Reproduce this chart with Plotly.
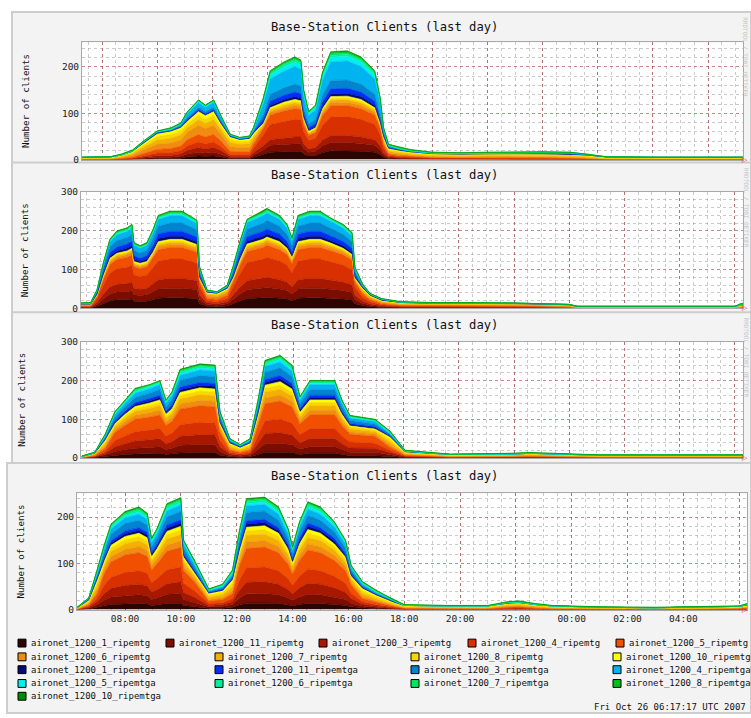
import plotly.graph_objects as go

W, H = 751, 718

SERIES = [
    "aironet_1200_1_ripemtg", "aironet_1200_11_ripemtg", "aironet_1200_3_ripemtg",
    "aironet_1200_4_ripemtg", "aironet_1200_5_ripemtg", "aironet_1200_6_ripemtg",
    "aironet_1200_7_ripemtg", "aironet_1200_8_ripemtg", "aironet_1200_10_ripemtg",
    "aironet_1200_1_ripemtga", "aironet_1200_11_ripemtga", "aironet_1200_3_ripemtga",
    "aironet_1200_4_ripemtga", "aironet_1200_5_ripemtga", "aironet_1200_6_ripemtga",
    "aironet_1200_7_ripemtga", "aironet_1200_8_ripemtga", "aironet_1200_10_ripemtga",
]
COLORS = [
    "#2c0400", "#7a0c00", "#a81800", "#d83000", "#f05000", "#f08c10", "#f4b000",
    "#f8d800", "#ffff00", "#000a78", "#0030f8", "#0084d0", "#00b4f0", "#00f0f0",
    "#00f0a0", "#00e860", "#00c018", "#008c00",
]
TICK_HOURS = [8, 10, 12, 14, 16, 18, 20, 22, 24, 26, 28, 30]
TICK_LABELS = ["08:00", "10:00", "12:00", "14:00", "16:00", "18:00", "20:00",
               "22:00", "00:00", "02:00", "04:00", ""]
TITLE = "Base-Station Clients (last day)"
Y_LABEL = "Number of clients"
STAMP = "Fri Oct 26 06:17:17 UTC 2007"

# ---------------- panel 1 ----------------
P1_T = [7.27,8.3,8.7,9.1,9.5,10.0,10.5,10.85,11.1,11.5,11.75,12.05,12.3,12.65,13.0,13.35,13.5,13.85,14.1,14.6,15.0,15.22,15.32,15.5,15.75,16.0,16.3,16.9,17.4,17.9,18.1,18.22,18.4,18.8,19.2,20.0,21.0,22.0,23.0,24.0,25.0,25.6,26.3,28.0,31.27]
P1_TG1 = [0,0,0,0,1,2,2,3,6,8, 7,8,6,2,2,2,5,11,16,17, 18,18,12,8,9,15,19,19,18,16, 11,5,2,1,1,1,1,1,1,1, 0,0,0,0,0]
P1_TG11 = [0,0,0,1,2,3,3,4,6,8, 7,8,6,2,2,2,5,10,15,16, 17,17,12,8,9,15,18,18,17,15, 10,5,2,2,1,1,1,1,1,1, 1,0,0,0,0]
P1_TG3 = [0,0,0,1,2,4,4,5,8,10, 9,10,8,3,3,3,5,9,12,14, 14,14,10,7,8,12,15,15,14,12, 9,5,2,1,1,0,0,0,0,0, 0,0,0,0,0]
P1_TG4 = [0,0,1,1,3,5,6,7,10,12, 11,12,9,4,4,4,10,23,33,36, 38,37,26,18,20,32,40,41,38,33, 23,10,3,2,2,1,1,1,1,1, 1,1,0,0,0]
P1_TG5 = [0,0,1,2,5,8,9,10,13,16, 15,16,12,7,6,6,8,14,20,22, 23,22,15,11,12,20,24,24,23,20, 14,7,3,2,2,1,1,1,1,1, 1,1,0,0,0]
P1_TG6 = [1,1,2,4,7,11,12,13,16,20, 18,20,15,10,9,9,8,4,6,6, 7,6,5,3,4,6,7,7,7,6, 4,5,3,3,2,2,1,2,2,2, 2,1,1,1,1]
P1_TG7 = [1,1,2,3,6,9,10,11,10,12, 11,12,9,9,7,8,6,3,4,5, 5,5,3,2,3,4,5,5,5,4, 3,4,3,3,2,2,2,2,2,2, 2,2,1,1,1]
P1_TG8 = [1,2,2,3,5,8,8,9,8,10, 9,10,8,7,6,6,5,2,3,4, 4,4,3,2,2,3,4,4,4,3, 2,4,3,3,3,3,3,3,3,3, 3,3,2,1,1]
P1_TG10 = [2,2,2,3,4,6,7,7,6,8, 8,8,6,5,4,5,5,2,3,4, 4,4,3,2,2,3,4,4,4,3, 2,4,3,3,3,2,2,2,2,2, 2,2,2,2,2]
P1_TGA1 = [0,0,0,0,1,1,1,1,2,2, 2,2,1,1,1,1,1,3,5,5, 6,5,4,3,3,5,6,6,6,5, 3,2,1,0,0,0,0,0,0,0, 0,0,0,0,0]
P1_TGA11 = [0,0,0,0,1,1,1,1,2,2, 2,2,2,1,0,1,2,6,9,10, 10,10,7,5,6,9,11,11,10,9, 6,3,1,1,0,0,0,0,0,0, 0,0,0,0,0]
P1_TGA3 = [0,0,0,0,1,1,1,2,4,5, 5,5,4,1,1,1,2,10,15,16, 17,16,11,8,9,15,18,18,17,15, 10,4,2,1,1,1,1,1,1,1, 1,0,0,0,0]
P1_TGA4 = [0,0,0,1,0,1,1,2,8,10, 9,10,7,1,1,1,3,23,33,36, 38,37,26,18,20,32,40,41,38,33, 23,6,2,1,1,0,0,0,1,1, 1,0,0,0,0]
P1_TGA5 = [0,0,0,0,1,1,1,1,2,3, 2,3,2,1,1,1,2,6,8,9, 9,9,6,4,5,8,10,10,9,8, 6,2,1,1,0,0,0,0,0,0, 1,2,0,0,0]
P1_TGA6 = [0,0,0,0,0,0,0,1,1,1, 1,1,1,0,0,0,1,2,3,4, 4,4,3,2,2,3,4,4,4,3, 2,1,0,0,0,0,0,0,0,0, 0,0,0,0,0]
P1_TGA7 = [0,0,1,0,0,0,1,0,1,1, 1,1,0,0,0,0,1,2,3,3, 3,3,2,1,2,3,3,3,3,3, 2,1,1,1,1,1,1,1,1,1, 0,0,0,0,0]
P1_TGA8 = [0,0,1,1,1,1,1,1,0,0, 0,0,0,1,1,1,1,2,2,2, 3,2,2,1,1,2,3,3,3,2, 2,1,1,1,1,1,1,1,1,1, 1,0,0,0,0]
P1_TGA10 = [0,0,0,1,0,0,1,1,1,1, 1,1,1,0,0,0,0,1,2,2, 2,2,1,1,1,2,2,2,2,2, 1,0,0,1,1,0,0,0,0,0, 0,0,0,0,0]

# ---------------- panel 2 ----------------
P2_T = [6.3,6.65,6.88,7.1,7.35,7.6,7.97,8.15,8.22,8.44, 8.69,8.91,9.1,9.53,9.96,10.36,10.5,10.6,10.87,11.23, 11.6,11.81,12.07,12.32,12.9,13.04,13.5,13.77,13.95,14.17, 14.6,14.97,15.33,15.8,16.13,16.23,16.5,16.78,17.2,17.9, 19.0,20.5,22.0,23.0,24.0,24.3,28.0,30.0,30.2,30.3]
P2_TG1 = [1,1,5,12,19,22,22,24,18,17, 18,22,26,27,27,25,25,12,5,4, 6,12,19,25,27,28,26,24,19,26, 27,27,25,24,21,12,7,4,2,1, 1,1,1,0,0,0,0,0,0,0]
P2_TG11 = [1,1,5,12,18,20,21,22,17,16, 17,20,24,25,25,24,23,11,5,4, 6,11,18,23,25,26,24,22,18,24, 25,25,24,22,20,11,6,4,2,1, 1,1,1,1,0,0,0,0,0,0]
P2_TG3 = [1,1,5,12,18,20,21,22,17,16, 17,21,24,25,25,24,23,11,4,4, 5,11,18,23,25,26,24,22,18,24, 25,25,24,22,19,11,6,3,2,1, 1,1,1,1,1,0,0,0,0,0]
P2_TG4 = [1,1,9,23,36,40,42,44,34,33, 34,41,48,50,50,47,46,21,6,5, 8,21,35,47,50,52,48,44,37,48, 50,50,47,44,39,21,10,6,3,2, 2,2,1,1,1,0,0,0,1,1]
P2_TG5 = [2,2,6,14,22,24,25,26,21,20, 21,25,29,30,30,28,28,13,6,6, 8,13,21,28,30,31,29,26,23,29, 30,30,28,26,24,13,9,5,3,2, 2,2,2,2,1,0,0,0,1,1]
P2_TG6 = [2,2,2,4,6,6,7,7,5,5, 5,6,8,8,8,8,7,4,6,6, 7,4,6,7,8,8,8,7,6,8, 8,8,8,7,6,4,5,4,3,2, 2,2,2,2,2,1,1,1,1,1]
P2_TG7 = [1,1,1,2,4,4,4,4,3,3, 3,4,5,5,5,5,5,2,4,4, 5,2,4,5,5,5,5,4,4,5, 5,5,5,4,4,2,4,3,2,2, 1,1,1,1,1,1,1,1,1,1]
P2_TG8 = [1,1,1,2,3,3,3,3,3,3, 3,3,4,4,4,4,4,2,3,3, 3,2,3,4,4,4,4,3,3,4, 4,4,4,3,3,2,3,2,2,2, 2,2,2,2,2,2,2,2,2,2]
P2_TG10 = [1,1,1,2,3,3,3,3,3,3, 3,3,4,4,4,4,4,2,2,2, 3,2,3,4,4,4,4,3,3,4, 4,4,4,3,3,2,3,2,2,2, 1,1,1,1,1,1,1,1,2,2]
P2_TGA1 = [0,0,2,4,6,6,7,7,6,5, 6,7,8,8,8,7,7,3,1,1, 1,3,6,7,8,8,8,7,6,8, 8,8,7,7,6,3,1,1,0,0, 0,0,0,0,0,0,0,0,0,0]
P2_TGA11 = [0,0,2,6,9,10,11,11,9,8, 9,11,12,13,13,12,12,5,1,1, 1,5,9,12,13,13,12,11,9,12, 13,13,12,11,10,5,2,1,1,0, 0,0,0,0,0,0,0,0,0,0]
P2_TGA3 = [1,1,4,10,15,17,17,18,14,14, 14,17,20,21,21,20,19,9,1,1, 2,9,15,19,21,22,20,18,16,20, 21,21,20,18,17,9,2,1,1,1, 1,1,1,1,1,0,0,0,0,0]
P2_TGA4 = [1,1,3,8,13,15,15,16,12,12, 12,14,17,19,19,17,16,8,1,0, 1,8,12,17,19,19,17,16,13,17, 19,19,17,16,14,8,2,1,1,0, 0,0,0,0,0,0,0,0,0,0]
P2_TGA5 = [0,1,1,1,2,2,3,3,2,2, 2,3,3,3,3,3,3,1,1,1, 1,1,2,3,3,3,3,3,2,3, 3,3,3,3,2,1,1,0,0,0, 0,0,0,0,0,0,0,0,0,0]
P2_TGA6 = [0,0,0,1,1,2,2,2,1,1, 1,2,2,2,2,2,2,1,0,0, 1,1,1,2,2,2,2,2,1,2, 2,2,2,2,2,1,1,0,0,0, 0,0,0,0,0,0,0,0,0,0]
P2_TGA7 = [0,0,0,1,1,2,2,2,1,1, 1,2,2,3,3,2,2,1,0,0, 0,1,1,2,3,3,2,2,1,2, 3,3,2,2,2,1,0,0,0,0, 0,0,0,0,0,0,0,0,1,1]
P2_TGA8 = [1,1,0,1,2,2,2,2,2,2, 2,2,2,2,2,1,1,1,1,1, 1,1,1,1,2,2,2,2,2,2, 2,2,1,2,2,1,1,1,1,1, 1,1,1,0,0,0,0,0,2,2]
P2_TGA10 = [0,0,0,0,1,2,1,1,2,1, 2,1,2,2,2,1,1,0,0,0, 1,0,1,1,2,2,2,1,2,2, 2,2,1,1,2,0,1,1,0,0, 0,0,0,0,0,0,0,0,1,2]

# ---------------- panel 3 ----------------
P3_T = [6.33,6.8,7.17,7.53,7.9,8.26,8.8,9.16,9.38,9.6, 9.89,10.61,11.16,11.34,11.7,12.07,12.43,12.72,12.97,13.52, 13.95,14.24,14.6,15.5,15.76,16.05,16.96,17.5,18.05,19.68, 21.85,22.58,25.1,30.3]
P3_TG1 = [0,1,4,7,9,10,11,12,9,10, 13,14,14,7,3,2,3,9,15,15, 14,9,12,12,9,6,6,4,1,0, 0,0,0,0]
P3_TG11 = [0,1,4,10,13,15,16,17,13,15, 20,21,20,10,3,2,3,13,22,23, 20,14,17,17,13,9,9,5,1,0, 0,1,0,0]
P3_TG3 = [0,1,4,12,15,19,20,21,15,17, 23,25,25,12,4,3,4,15,26,27, 25,16,21,21,15,11,10,5,1,1, 1,1,0,0]
P3_TG4 = [0,1,5,16,20,24,25,26,20,22, 30,32,31,16,4,3,4,20,33,35, 31,21,26,26,20,15,13,6,2,1, 1,1,1,1]
P3_TG5 = [0,2,7,21,27,32,34,35,27,30, 40,43,42,21,6,4,6,27,44,47, 42,28,35,35,27,20,18,8,2,1, 1,1,1,1]
P3_TG6 = [1,2,5,7,9,10,11,12,9,10, 13,14,14,7,4,3,4,9,15,15, 14,9,12,12,9,7,6,6,2,1, 1,2,1,1]
P3_TG7 = [1,2,6,7,9,10,11,12,9,10, 13,14,14,7,5,3,5,9,15,15, 14,9,12,12,9,7,6,7,2,1, 2,2,1,1]
P3_TG8 = [1,2,6,5,6,7,8,8,6,7, 9,10,10,5,5,4,5,6,10,11, 10,7,8,8,6,5,4,7,3,2, 2,2,1,1]
P3_TG10 = [1,1,5,4,5,6,6,7,5,6, 8,8,8,4,4,3,4,5,8,9, 8,5,7,7,5,3,3,6,2,2, 2,2,2,2]
P3_TGA1 = [0,0,1,3,4,5,6,6,4,5, 7,7,7,3,1,1,1,4,7,8, 7,5,6,6,4,3,3,2,0,0, 0,0,0,0]
P3_TGA11 = [0,0,2,4,4,5,6,6,4,5, 7,7,7,4,2,1,2,4,7,8, 7,5,6,6,4,3,3,2,1,0, 0,0,0,0]
P3_TGA3 = [0,1,3,9,11,13,14,15,11,13, 17,18,18,9,3,2,3,11,19,20, 18,12,15,15,11,8,7,3,1,0, 0,0,0,0]
P3_TGA4 = [0,0,3,7,9,11,11,12,9,10, 13,14,14,7,2,1,2,9,15,15, 14,9,12,12,9,6,6,3,0,0, 0,0,0,0]
P3_TGA5 = [0,0,2,3,3,4,4,4,3,4, 5,5,5,3,1,1,1,3,5,6, 5,3,4,4,3,2,2,2,0,0, 0,0,0,0]
P3_TGA6 = [0,0,1,2,2,3,3,3,2,3, 4,4,4,2,1,0,1,2,4,4, 4,3,3,3,2,2,1,1,0,0, 0,0,0,0]
P3_TGA7 = [1,1,1,1,2,2,2,2,2,2, 3,3,3,1,1,1,1,2,3,3, 3,2,2,2,2,1,1,1,1,0, 1,1,0,0]
P3_TGA8 = [0,0,1,1,1,2,1,1,1,1, 2,2,2,1,0,0,0,1,2,2, 2,1,1,1,1,1,1,1,1,1, 1,1,1,1]
P3_TGA10 = [0,0,1,1,1,2,1,1,1,1, 2,2,2,1,1,1,1,1,2,2, 2,1,1,1,1,1,1,1,0,0, 0,0,0,0]

# ---------------- panel 4 ----------------
P4_T = [6.28,6.7,7.0,7.25,7.5,8.0,8.5,8.8,8.95,9.15, 9.5,10.0,10.1,10.5,11.0,11.5,11.85,12.1,12.35,13.0, 13.5,13.85,14.0,14.25,14.55,15.0,15.5,15.9,16.1,16.5, 17.0,17.6,18.0,19.5,21.0,21.7,22.1,22.7,23.3,25.0, 27.0,29.0,30.0,30.28]
P4_TG1 = [0,1,5,8,11,12,13,12,9,10, 13,14,9,6,3,3,5,10,14,14, 13,10,8,11,13,13,11,9,6,4, 2,1,0,0,0,0,0,0,0,0, 0,0,0,0]
P4_TG11 = [0,2,6,12,16,18,19,18,13,15, 20,21,13,9,3,4,6,15,20,21, 19,15,12,16,20,19,16,13,8,4, 3,1,0,0,0,1,1,0,0,0, 0,0,0,0]
P4_TG3 = [0,2,6,14,19,22,23,21,16,18, 23,25,15,11,3,4,6,17,25,25, 23,18,14,20,24,23,20,15,10,4, 3,1,1,0,0,1,1,1,0,0, 0,0,0,1]
P4_TG4 = [0,2,7,18,24,28,29,27,20,24, 30,32,20,14,4,4,7,22,31,32, 29,23,18,25,31,29,25,20,12,5, 3,2,1,1,1,1,2,1,1,0, 0,0,1,1]
P4_TG5 = [0,3,10,25,33,38,39,37,27,32, 40,42,27,19,5,7,10,30,42,43, 39,31,24,34,41,39,34,27,17,7, 5,2,1,1,1,2,2,1,1,1, 0,1,1,1]
P4_TG6 = [1,2,7,8,11,12,13,12,9,10, 13,14,9,6,4,4,7,10,14,14, 13,10,8,11,13,13,11,9,6,5, 3,2,1,1,1,2,2,2,1,1, 1,1,1,1]
P4_TG7 = [1,3,8,8,11,12,13,12,9,10, 13,14,9,6,4,6,8,10,14,14, 13,10,8,11,13,13,11,9,6,6, 4,2,1,1,1,2,2,2,1,1, 1,1,1,2]
P4_TG8 = [1,3,8,6,8,9,9,9,6,7, 9,10,6,4,5,5,8,7,10,10, 9,7,5,8,10,9,8,6,4,6, 4,3,2,2,2,3,3,2,2,1, 1,1,1,2]
P4_TG10 = [1,2,7,5,6,7,7,7,5,6, 8,8,5,3,4,4,7,6,8,8, 7,6,4,6,8,7,6,5,3,5, 4,3,2,2,2,2,2,2,2,1, 1,2,2,2]
P4_TGA1 = [0,1,2,4,5,6,6,6,5,5, 7,7,4,3,1,1,2,5,7,7, 6,5,4,6,7,6,6,4,3,1, 1,0,0,0,0,0,0,0,0,0, 0,0,0,0]
P4_TGA11 = [0,1,3,4,5,6,6,6,5,5, 7,7,4,3,1,2,3,5,7,7, 6,5,4,6,7,6,6,4,3,2, 1,1,0,0,0,0,1,0,0,0, 0,0,0,0]
P4_TGA3 = [0,1,4,10,14,16,16,15,11,13, 17,18,11,8,2,3,4,13,18,18, 16,13,10,14,17,16,14,11,7,3, 2,1,0,0,0,1,0,0,0,0, 0,0,0,1]
P4_TGA4 = [0,1,4,8,11,12,13,12,9,10, 13,14,9,6,2,3,4,10,14,14, 13,10,8,11,13,13,11,9,5,3, 2,1,0,0,0,0,0,0,0,0, 0,0,0,0]
P4_TGA5 = [0,1,3,3,4,4,5,4,3,4, 5,5,3,2,1,2,3,4,5,5, 5,4,3,4,5,5,4,3,2,2, 1,0,0,0,0,0,0,0,0,0, 0,0,0,0]
P4_TGA6 = [0,0,2,2,3,3,4,3,3,3, 4,4,2,2,1,1,2,3,4,4, 4,3,2,3,4,4,3,2,1,1, 1,0,0,0,0,0,0,0,0,0, 0,0,0,0]
P4_TGA7 = [1,0,2,2,2,3,3,3,2,2, 3,3,2,1,1,1,2,2,3,3, 3,2,2,2,3,3,2,2,1,1, 1,1,1,0,0,1,1,1,0,0, 0,0,0,1]
P4_TGA8 = [0,0,1,1,1,2,2,2,1,1, 2,2,1,1,0,1,1,1,2,2, 2,1,1,1,2,2,1,1,1,1, 1,1,1,1,1,1,1,1,1,1, 1,1,1,1]
P4_TGA10 = [0,0,1,1,1,2,2,2,1,1, 2,2,1,1,1,0,1,1,2,2, 2,1,1,1,2,2,1,1,1,1, 1,0,0,0,0,0,1,0,0,0, 0,0,0,0]

PANELS = [
    (P1_T, [P1_TG1, P1_TG11, P1_TG3, P1_TG4, P1_TG5, P1_TG6, P1_TG7, P1_TG8, P1_TG10,
            P1_TGA1, P1_TGA11, P1_TGA3, P1_TGA4, P1_TGA5, P1_TGA6, P1_TGA7, P1_TGA8, P1_TGA10]),
    (P2_T, [P2_TG1, P2_TG11, P2_TG3, P2_TG4, P2_TG5, P2_TG6, P2_TG7, P2_TG8, P2_TG10,
            P2_TGA1, P2_TGA11, P2_TGA3, P2_TGA4, P2_TGA5, P2_TGA6, P2_TGA7, P2_TGA8, P2_TGA10]),
    (P3_T, [P3_TG1, P3_TG11, P3_TG3, P3_TG4, P3_TG5, P3_TG6, P3_TG7, P3_TG8, P3_TG10,
            P3_TGA1, P3_TGA11, P3_TGA3, P3_TGA4, P3_TGA5, P3_TGA6, P3_TGA7, P3_TGA8, P3_TGA10]),
    (P4_T, [P4_TG1, P4_TG11, P4_TG3, P4_TG4, P4_TG5, P4_TG6, P4_TG7, P4_TG8, P4_TG10,
            P4_TGA1, P4_TGA11, P4_TGA3, P4_TGA4, P4_TGA5, P4_TGA6, P4_TGA7, P4_TGA8, P4_TGA10]),
]

# ---------------- layout geometry (pixels) ----------------
PANEL_BOX = [(12, 6, 751, 165), (12, 159, 751, 316), (12, 311, 751, 468), (7, 464, 751, 718)]
PLOT_BOX = [(82, 37, 743, 156), (81, 189, 743, 307), (81, 341, 743, 459), (77, 495, 747, 613)]
Y_TOP = [253, 300, 300, 251]
X_START = [7.27, 6.3, 6.3, 6.28]
TITLE_Y = [21, 172, 324, 477]
YLAB_X = [25, 24, 22, 21]

MONO = "DejaVu Sans Mono"
MAJOR = "rgba(160,40,40,0.55)"
MINOR = "rgba(150,150,150,0.5)"
FRAME = "#a8a8a8"


def fx(x):
    return x / W


def fy(y):
    return 1 - y / H


fig = go.Figure()
shapes = []
annotations = []
layout_axes = {}

for p, (T, series) in enumerate(PANELS):
    xname = "x" if p == 0 else f"x{p + 1}"
    yname = "y" if p == 0 else f"y{p + 1}"
    for i, vals in enumerate(series):
        fig.add_trace(go.Scatter(
            x=T, y=vals, xaxis=xname, yaxis=yname, mode="lines",
            stackgroup=f"g{p}", fillcolor=COLORS[i],
            line=dict(width=0.6, color=COLORS[i]),
            name=SERIES[i], showlegend=False, hoverinfo="skip",
        ))
    x0, y0, x1, y1 = PLOT_BOX[p]
    layout_axes["xaxis" if p == 0 else f"xaxis{p + 1}"] = dict(
        domain=[fx(x0), fx(x1)], range=[X_START[p], X_START[p] + 24], anchor=yname,
        tickmode="array", tickvals=TICK_HOURS, ticktext=TICK_LABELS,
        showticklabels=(p == 3), ticks="",
        tickfont=dict(family=MONO, size=9.5, color="#222"),
        showgrid=True, gridcolor=MAJOR, griddash="dot", gridwidth=1,
        minor=dict(tickmode="linear", tick0=0, dtick=0.5, showgrid=True,
                   gridcolor=MINOR, griddash="dot", gridwidth=1, ticks=""),
        showline=True, linecolor=FRAME, mirror=True, zeroline=False, fixedrange=True,
    )
    layout_axes["yaxis" if p == 0 else f"yaxis{p + 1}"] = dict(
        domain=[fy(y1), fy(y0)], range=[0, Y_TOP[p]], anchor=xname,
        tickmode="linear", tick0=0, dtick=100, ticks="",
        tickfont=dict(family=MONO, size=9.5, color="#222"),
        showgrid=True, gridcolor=MAJOR, griddash="dot", gridwidth=1,
        minor=dict(tickmode="linear", tick0=0, dtick=20, showgrid=True,
                   gridcolor=MINOR, griddash="dot", gridwidth=1, ticks=""),
        showline=True, linecolor=FRAME, mirror=True, zeroline=False, fixedrange=True,
    )

    # panel background and white plot area
    bx0, by0, bx1, by1 = PANEL_BOX[p]
    shapes.append(dict(type="rect", xref="paper", yref="paper", layer="below",
                       x0=fx(bx0), x1=fx(bx1), y0=fy(by1), y1=fy(by0),
                       fillcolor="#f3f3f3", line=dict(color="#cdcdcd", width=2)))
    shapes.append(dict(type="rect", xref="paper", yref="paper", layer="below",
                       x0=fx(x0), x1=fx(x1), y0=fy(y1), y1=fy(y0),
                       fillcolor="#ffffff", line=dict(width=0)))

    annotations.append(dict(text=TITLE, xref="paper", yref="paper", x=fx(384), y=fy(TITLE_Y[p]),
                            xanchor="center", yanchor="middle", showarrow=False,
                            font=dict(family=MONO, size=12.2, color="#111")))
    annotations.append(dict(text=Y_LABEL, xref="paper", yref="paper", x=fx(YLAB_X[p]),
                            y=fy((y0 + y1) / 2), textangle=-90, xanchor="center", yanchor="middle",
                            showarrow=False, font=dict(family=MONO, size=9.2, color="#111")))
    annotations.append(dict(text="▷", xref="paper", yref="paper", x=fx(min(x1 + 5, 745)), y=fy(y1),
                            xanchor="center", yanchor="middle", showarrow=False,
                            font=dict(family="DejaVu Sans", size=7, color="#e02020")))
    if p < 3:
        annotations.append(dict(text="RRDTOOL / TOBI OETIKER", xref="paper", yref="paper",
                                x=fx(746), y=fy(by0 + 46), textangle=90, xanchor="center",
                                yanchor="middle", showarrow=False,
                                font=dict(family=MONO, size=6, color="#c4c4c4")))

# legend (drawn manually, RRD style)
LEG_ROWS_Y = [647, 661, 674, 688, 701]
LEG_POS = [(18, 0), (166, 0), (319, 0), (468, 0), (616, 0),
           (18, 1), (215, 1), (411, 1), (613, 1),
           (18, 2), (215, 2), (411, 2), (613, 2),
           (18, 3), (215, 3), (411, 3), (613, 3),
           (18, 4)]
for i, name in enumerate(SERIES):
    lx, row = LEG_POS[i]
    ly = LEG_ROWS_Y[row]
    shapes.append(dict(type="rect", xref="paper", yref="paper", layer="above",
                       x0=fx(lx), x1=fx(lx + 8), y0=fy(ly + 4), y1=fy(ly - 4),
                       fillcolor=COLORS[i], line=dict(color="#000000", width=1)))
    annotations.append(dict(text=name, xref="paper", yref="paper", x=fx(lx + 11), y=fy(ly),
                            xanchor="left", yanchor="middle", showarrow=False,
                            font=dict(family=MONO, size=9.0, color="#111")))

annotations.append(dict(text=STAMP, xref="paper", yref="paper", x=fx(748), y=fy(712),
                        xanchor="right", yanchor="middle", showarrow=False,
                        font=dict(family=MONO, size=9.0, color="#111")))

fig.update_layout(
    width=W, height=H, margin=dict(l=0, r=0, t=0, b=0),
    paper_bgcolor="#ffffff", plot_bgcolor="#ffffff",
    showlegend=False, shapes=shapes, annotations=annotations,
    **layout_axes,
)

fig.write_html("out.html", config={"displayModeBar": False, "staticPlot": True},
               post_script="document.body.style.margin='0';document.body.style.overflow='hidden';")
